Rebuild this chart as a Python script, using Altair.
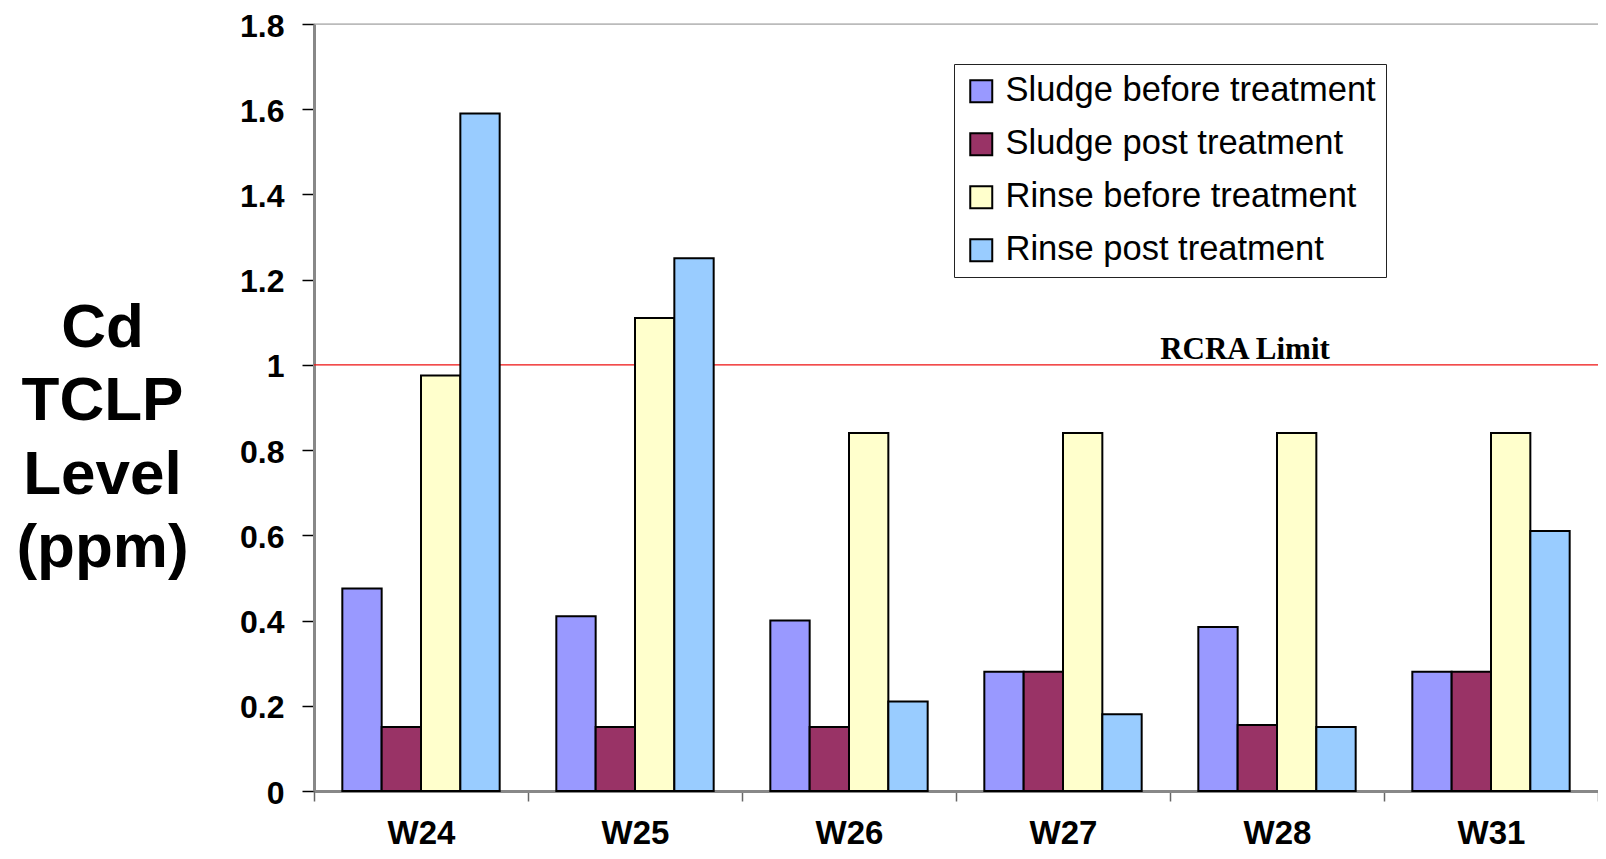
import altair as alt
import pandas as pd

wells = ["W24", "W25", "W26", "W27", "W28", "W31"]
series = ["Sludge before treatment", "Sludge post treatment",
          "Rinse before treatment", "Rinse post treatment"]
colors = ["#9999ff", "#993366", "#ffffcc", "#99ccff"]

sludge_before = [0.475, 0.41, 0.40, 0.28, 0.385, 0.28]
sludge_post = [0.15, 0.15, 0.15, 0.28, 0.155, 0.28]
rinse_before = [0.975, 1.11, 0.84, 0.84, 0.84, 0.84]
rinse_post = [1.59, 1.25, 0.21, 0.18, 0.15, 0.61]

y_ticks = [0, 0.2, 0.4, 0.6, 0.8, 1.0, 1.2, 1.4, 1.6, 1.8]
rcra_limit = 1.0
y_max = 1.8

rows = []
for s, vals in zip(series, [sludge_before, sludge_post, rinse_before, rinse_post]):
    for w, v in zip(wells, vals):
        rows.append({"well": w, "series": s, "value": v})
df = pd.DataFrame(rows)

W = 1284
H = 767

bars = alt.Chart(df).mark_bar(stroke="black", strokeWidth=2, opacity=1).encode(
    x=alt.X("well:N", sort=wells,
            scale=alt.Scale(paddingInner=0, paddingOuter=0),
            axis=alt.Axis(title=None, labelAngle=0, tickBand="extent",
                          labelFont="Liberation Sans", labelFontWeight="bold",
                          labelFontSize=33, labelColor="black", labelPadding=16,
                          tickColor="#666666", tickSize=10, tickWidth=1.5,
                          domainColor="#888888", domainWidth=3, grid=False)),
    xOffset=alt.XOffset("series:N", sort=series,
                        scale=alt.Scale(paddingInner=0, paddingOuter=0.72)),
    y=alt.Y("value:Q",
            scale=alt.Scale(domain=[0, y_max], nice=False, zero=True),
            axis=alt.Axis(values=y_ticks, format=".1~f", grid=False,
                          title=["Cd", "TCLP", "Level", "(ppm)"],
                          titleFont="Liberation Sans", titleFontWeight="bold",
                          titleFontSize=62, titleLineHeight=73.5, titleColor="black",
                          titleAngle=0, titleAlign="center", titleBaseline="alphabetic",
                          titleX=-212, titleY=322,
                          labelFont="Liberation Sans", labelFontWeight="bold",
                          labelFontSize=32, labelColor="black", labelPadding=18,
                          labelOffset=2,
                          tickColor="black", tickSize=12, tickWidth=1.5,
                          domainColor="#888888", domainWidth=3)),
    color=alt.Color("series:N", sort=series,
                    scale=alt.Scale(domain=series, range=colors),
                    legend=alt.Legend(title=None, orient="none", legendX=640, legendY=40,
                                      direction="vertical",
                                      fillColor="white", strokeColor="#222222",
                                      padding=10, symbolType="square", symbolSize=484,
                                      symbolStrokeColor="black", symbolStrokeWidth=2,
                                      symbolOpacity=1,
                                      labelFont="Liberation Sans", labelFontSize=34.5,
                                      labelColor="black", labelOffset=7,
                                      rowPadding=18, labelLimit=600)),
)

limit_df = pd.DataFrame({"y": [rcra_limit]})
limit = alt.Chart(limit_df).mark_rule(color="#ee1111", strokeWidth=1.4).encode(
    y=alt.Y("y:Q"))

limit_text = alt.Chart(pd.DataFrame({"y": [rcra_limit], "label": ["RCRA Limit"]})).mark_text(
    font="Liberation Serif", fontWeight="bold", fontSize=31, color="black",
    align="center", baseline="alphabetic", dy=-6).encode(
    x=alt.value(931), y=alt.Y("y:Q"), text="label:N")

top_df = pd.DataFrame({"y": [y_max]})
top_line = alt.Chart(top_df).mark_rule(color="#999999", strokeWidth=1).encode(
    y=alt.Y("y:Q"))

chart = alt.layer(limit, bars, limit_text, top_line).properties(
    width=W, height=H,
    autosize=alt.AutoSizeParams(type="none"),
    padding={"left": 306, "top": 16, "right": 0, "bottom": 60},
).configure_view(fill="#eaeaea", stroke=None).configure(background="white")

chart.save("out.html", embed_options={"renderer": "svg", "actions": False})
